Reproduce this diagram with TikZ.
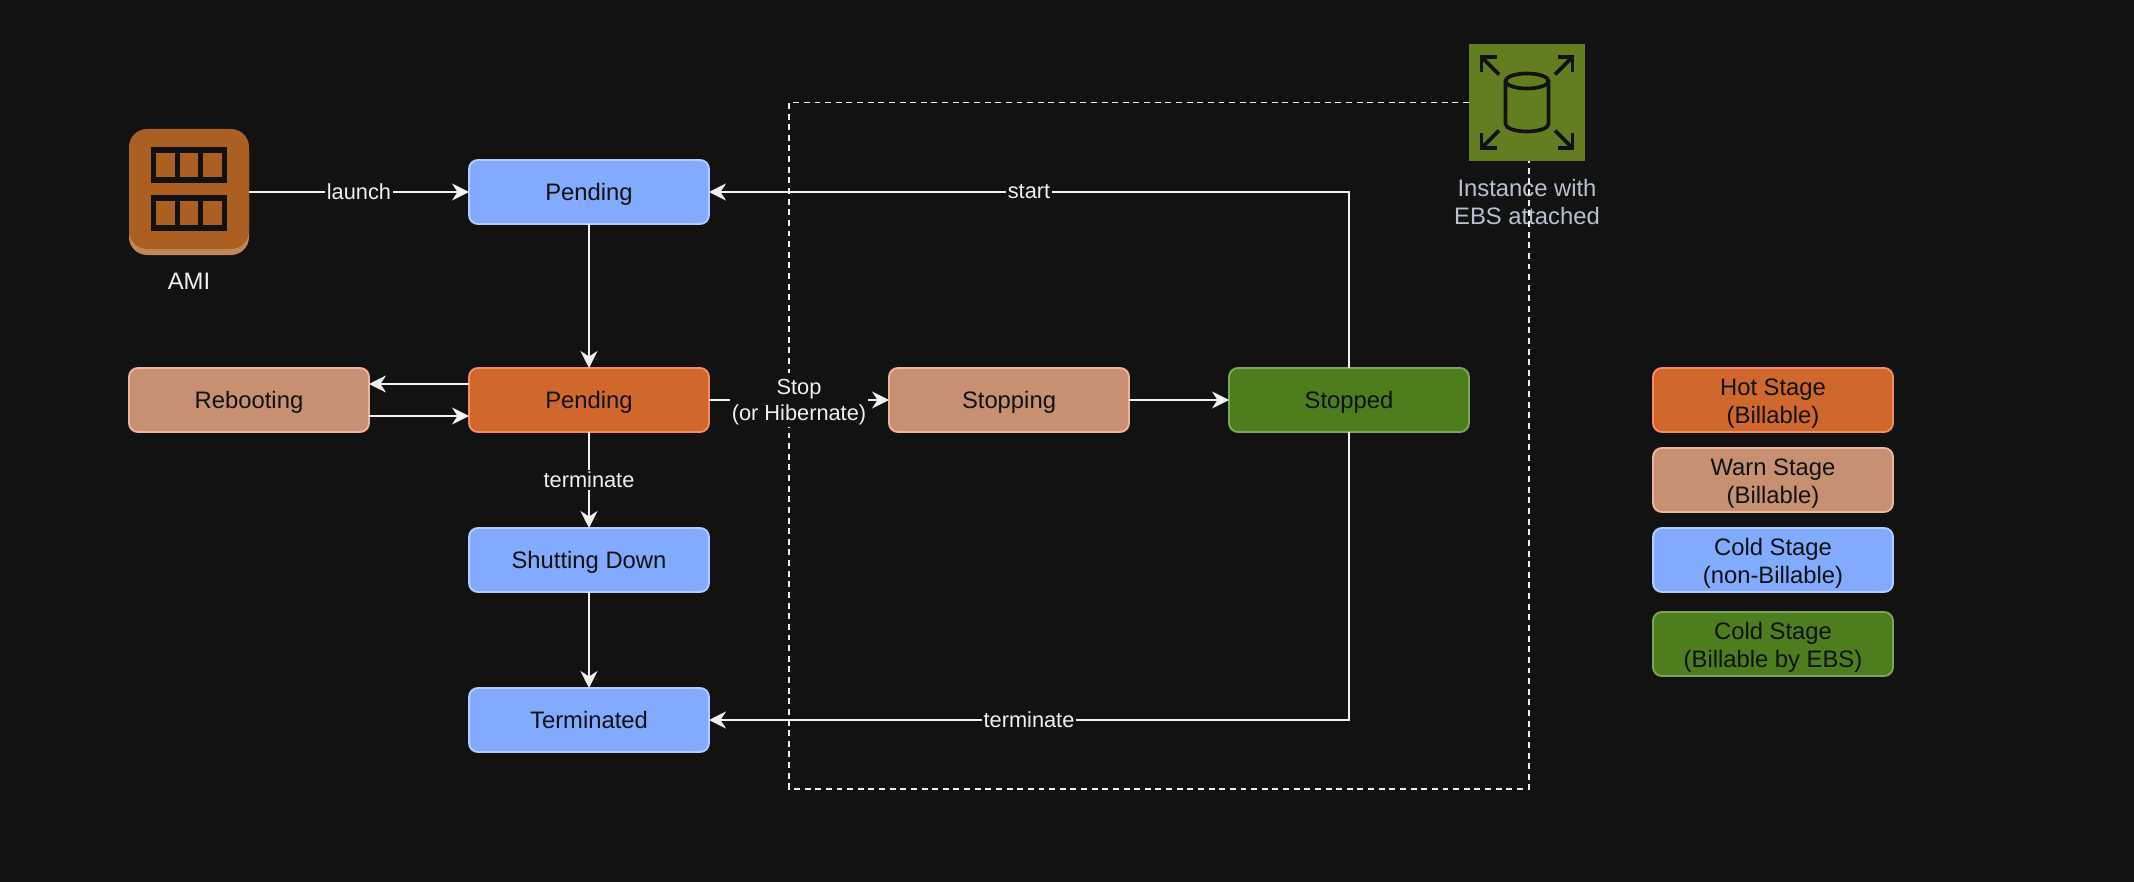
\documentclass[tikz,border=0pt]{standalone}
\usepackage{xcolor}
\usepackage{fontspec}
\setmainfont{Liberation Sans}
\usetikzlibrary{arrows.meta,positioning}
\definecolor{Backdrop}{HTML}{121212}
\definecolor{Ink}{HTML}{121212}
\definecolor{Wire}{HTML}{F0F0F0}
\definecolor{HotFill}{HTML}{D0682E}
\definecolor{HotEdge}{HTML}{F58A64}
\definecolor{WarmFill}{HTML}{C79072}
\definecolor{WarmEdge}{HTML}{EDB59B}
\definecolor{ColdFill}{HTML}{82AAFF}
\definecolor{ColdEdge}{HTML}{B3CBFF}
\definecolor{EbsFill}{HTML}{4E7D1E}
\definecolor{EbsEdge}{HTML}{7EA35A}
\definecolor{AmiFill}{HTML}{AB5F22}
\definecolor{AmiShade}{HTML}{C08758}
\definecolor{VolumeFill}{HTML}{637D21}
\definecolor{CaptionGrey}{HTML}{B8C0D0}
\newcommand{\legendstrut}{\rule{0pt}{13.8pt}}
\newcommand{\stopstrut}{\rule{0pt}{11.4pt}}

\begin{document}
\begin{tikzpicture}[
    node distance=1.92cm and 2cm,
    stage/.style={
        rectangle,
        rounded corners=1.8mm,
        line width=1.1pt,
        minimum width=4.8cm,
        minimum height=1.28cm,
        outer sep=0pt,
        inner sep=0pt,
        align=center,
        text=Ink,
        font=\fontsize{13.55}{16.2}\selectfont
    },
    oneline/.style={text height=13.1pt, text depth=3.4pt},
    hot/.style={stage, draw=HotEdge, fill=HotFill},
    warm/.style={stage, draw=WarmEdge, fill=WarmFill},
    cold/.style={stage, draw=ColdEdge, fill=ColdFill},
    ebsstage/.style={stage, draw=EbsEdge, fill=EbsFill},
    arrow/.style={-{Stealth[length=3.4mm, width=3.4mm, inset=1.1mm]}, line width=1.1pt, draw=Wire},
    edgelabel/.style={fill=Backdrop, text=Wire, inner sep=1pt, align=center, font=\fontsize{12.4}{14.9}\selectfont},
    caption/.style={align=center, inner sep=0pt, font=\fontsize{13.55}{16.4}\selectfont},
    frameline/.style={line width=1.1pt, draw=Wire, dash pattern=on 3.4pt off 2.65pt},
    glyph/.style={line width=2.1pt, draw=Ink}
]
    \useasboundingbox[fill=Backdrop] (0,0) rectangle (42.68,-17.64);

    % AMI icon
    \fill[AmiShade, rounded corners=3.6mm] (2.58,-2.7) rectangle (4.98,-5.1);
    \node[rectangle, rounded corners=3.6mm, fill=AmiFill, minimum size=2.4cm, inner sep=0pt, outer sep=0pt] (ami) at (3.78,-3.78) {};
    \foreach \rowy in {0.48,-0.48} {
        \fill[Backdrop] ([xshift=-0.76cm, yshift=\rowy cm-0.36cm]ami.center) rectangle ([xshift=0.76cm, yshift=\rowy cm+0.36cm]ami.center);
        \foreach \cellx in {-0.47,0,0.47} {
            \fill[AmiFill] ([xshift=\cellx cm-0.185cm, yshift=\rowy cm-0.24cm]ami.center) rectangle ([xshift=\cellx cm+0.185cm, yshift=\rowy cm+0.24cm]ami.center);
        }
    }
    \node[caption, text=Wire, below=0.48cm of ami] (amitext) {AMI};

    % EBS icon
    \node[rectangle, fill=VolumeFill, minimum size=2.32cm, inner sep=0pt, outer sep=0pt] (ebs) at (30.54,-2.05) {};
    \begin{scope}[shift={(ebs.center)}]
        \foreach \sx/\sy in {1/1,-1/1,1/-1,-1/-1} {
            \draw[glyph] (\sx*0.56,\sy*0.56) -- (\sx*0.91,\sy*0.91);
            \draw[glyph] (\sx*0.61,\sy*0.91) -- (\sx*0.91,\sy*0.91) -- (\sx*0.91,\sy*0.61);
        }
        \draw[glyph] (0,0.43) ellipse (0.43 and 0.15);
        \draw[glyph] (-0.43,0.43) -- (-0.43,-0.43) arc[start angle=180, end angle=360, x radius=0.43, y radius=0.15] -- (0.43,0.43);
    \end{scope}
    \node[caption, text=CaptionGrey, below=0.36cm of ebs] (ebstext) {Instance with\\EBS attached};

    \coordinate (framecorner) at (15.78,-15.78);
    \draw[frameline] (ebs.west) -| (framecorner) -| ([xshift=0.04cm]ebs.south);

    % lifecycle stages
    \node[cold, oneline] (pendingcold) at (11.78,-3.84) {Pending};
    \node[hot, oneline, below=2.88cm of pendingcold] (pendinghot) {Pending};
    \node[warm, oneline, left=of pendinghot] (rebooting) {Rebooting};
    \node[warm, oneline, right=3.6cm of pendinghot] (stopping) {Stopping};
    \node[ebsstage, oneline, right=of stopping] (stopped) {Stopped};
    \node[cold, oneline, below=of pendinghot] (shutting) {Shutting Down};
    \node[cold, oneline, below=of shutting] (terminated) {Terminated};

    % legend
    \node[hot, right=3.68cm of stopped] (legendhot) {\legendstrut Hot Stage\\(Billable)};
    \node[warm, below=0.32cm of legendhot] (legendwarm) {\legendstrut Warn Stage\\(Billable)};
    \node[cold, below=0.32cm of legendwarm] (legendcold) {\legendstrut Cold Stage\\(non-Billable)};
    \node[ebsstage, below=0.4cm of legendcold] (legendebs) {\legendstrut Cold Stage\\(Billable by EBS)};

    \draw[arrow] (pendingcold.west -| ami.east) -- node[edgelabel] (launchtext) {launch} (pendingcold.west);
    \draw[arrow] (pendingcold) -- (pendinghot);
    \draw[arrow] ([yshift=0.32cm]pendinghot.west) -- ([yshift=0.32cm]rebooting.east);
    \draw[arrow] ([yshift=-0.32cm]rebooting.east) -- ([yshift=-0.32cm]pendinghot.west);
    \draw[arrow] (pendinghot) -- node[edgelabel] (stoptext) {\stopstrut Stop\\(or Hibernate)} (stopping);
    \draw[arrow] (stopping) -- (stopped);
    \draw[arrow] (pendinghot) -- node[edgelabel] (terminatetext) {terminate} (shutting);
    \draw[arrow] (shutting) -- (terminated);
    \draw[arrow] (stopped.north) |- node[edgelabel, pos=0.75] (starttext) {start} (pendingcold.east);
    \draw[arrow] (stopped.south) |- node[edgelabel, pos=0.75] (killtext) {terminate} (terminated.east);
\end{tikzpicture}
\end{document}
